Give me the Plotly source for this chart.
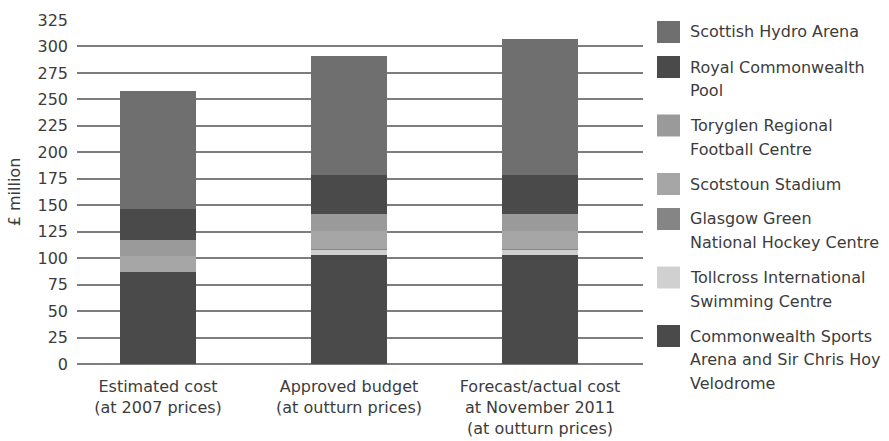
import plotly.graph_objects as go

categories = ["Estimated cost<br>(at 2007 prices)",
              "Approved budget<br>(at outturn prices)",
              "Forecast/actual cost<br>at November 2011<br>(at outturn prices)"]

# stacked from bottom to top
arena = [87.0, 103.0, 103.0]
tollcross = [0.0, 4.8, 4.8]
glasgow_green = [0.0, 0.9, 0.9]
scotstoun = [15.1, 16.9, 16.9]
toryglen = [15.1, 16.1, 16.1]
royal_pool = [29.3, 37.0, 37.0]
hydro = [111.4, 112.3, 128.3]

series_names = [
    "Commonwealth Sports<br>Arena and Sir Chris Hoy<br>Velodrome",
    "Tollcross International<br>Swimming Centre",
    "Glasgow Green<br>National Hockey Centre",
    "Scotstoun Stadium",
    "Toryglen Regional<br>Football Centre",
    "Royal Commonwealth<br>Pool",
    "Scottish Hydro Arena",
]
series_values = [arena, tollcross, glasgow_green, scotstoun, toryglen, royal_pool, hydro]
series_colors = ["#4a4a4a", "#d0d0d0", "#858585", "#a6a6a6", "#9a9a9a", "#4a4a4a", "#6f6f6f"]

y_ticks = list(range(0, 326, 25))

W, H = 889, 441
L, R, T, B = 77, 643, 20, 364
FONT = "DejaVu Sans, Liberation Sans, sans-serif"
FS = 16
TXT = "#3c3c3c"

fig = go.Figure()
for name, vals, col in zip(series_names, series_values, series_colors):
    fig.add_trace(go.Bar(x=[0, 1, 2], y=vals, name=name.replace("<br>", " "),
                         marker=dict(color=col, line=dict(width=0)),
                         showlegend=False))

# manual legend (top to bottom = reverse stacking order)
def px2x(px):
    return (px - L) / (R - L)

def py2y(py):
    return (B - py) / (B - T)

shapes = []
annotations = []
line_step = 23.5
gap = 11.5
yc = 32.0
for name, col in reversed(list(zip(series_names, series_colors))):
    lines = name.split("<br>")
    shapes.append(dict(type="rect", xref="paper", yref="paper",
                       x0=px2x(657), x1=px2x(680), y0=py2y(yc + 11), y1=py2y(yc - 11),
                       fillcolor=col, line=dict(width=0)))
    for i, ln in enumerate(lines):
        annotations.append(dict(text=ln, xref="paper", yref="paper",
                                x=px2x(688), y=py2y(yc + i * line_step),
                                xanchor="left", yanchor="middle", showarrow=False,
                                font=dict(family=FONT, size=FS, color=TXT)))
    yc += len(lines) * line_step + gap

fig.update_layout(
    barmode="stack",
    bargap=0.6,
    width=W, height=H,
    margin=dict(l=L, r=W - R, t=T, b=H - B, autoexpand=False),
    plot_bgcolor="white", paper_bgcolor="white",
    font=dict(family=FONT, size=FS, color=TXT),
    shapes=shapes,
    annotations=annotations,
    xaxis=dict(tickmode="array", tickvals=[0, 1, 2], ticktext=categories,
               range=[-0.424, 2.539], showgrid=False, zeroline=False,
               showline=False, ticks="", ticklabelstandoff=11, automargin=False,
               tickfont=dict(family=FONT, size=FS, color=TXT)),
    yaxis=dict(range=[0, 325], tickvals=y_ticks, showgrid=True,
               gridcolor="#7d7d7d", gridwidth=1.6, zeroline=True,
               zerolinecolor="#7d7d7d", zerolinewidth=1.6, showline=False,
               ticks="", ticklabelstandoff=8, automargin=False,
               tickfont=dict(family=FONT, size=FS, color=TXT),
               title=dict(text="£ million", standoff=12,
                          font=dict(family=FONT, size=FS, color=TXT))),
)

fig.write_html("out.html", config={"displayModeBar": False},
               post_script="document.body.style.margin='0';document.body.style.overflow='hidden';")
